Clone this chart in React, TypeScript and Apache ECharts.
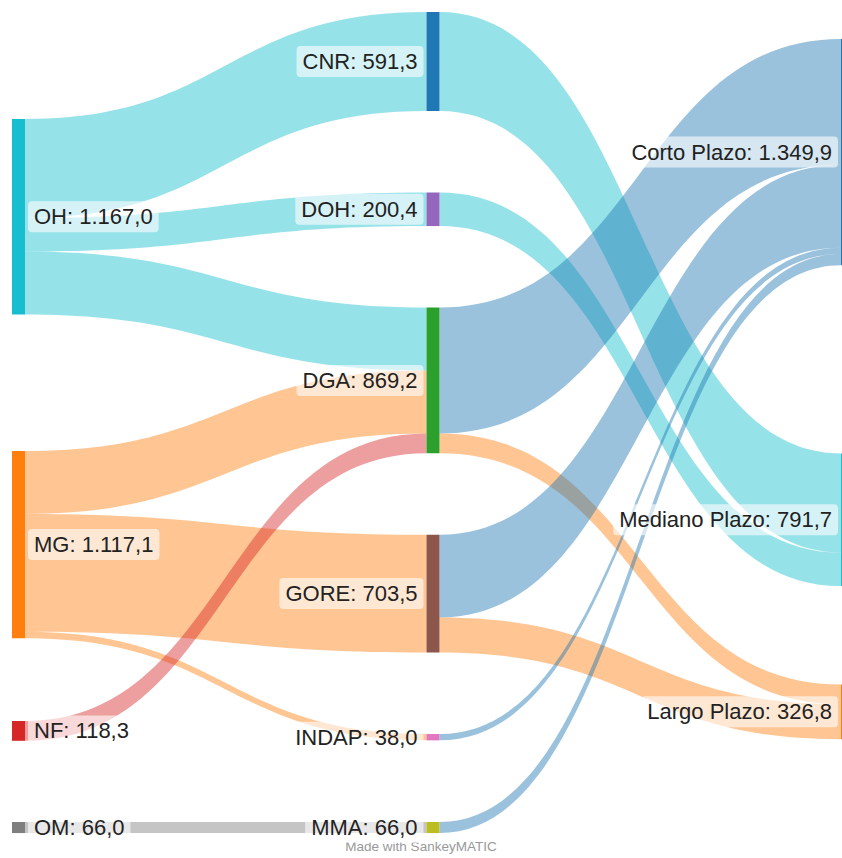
import React, { useEffect, useRef } from "react";
import * as echarts from "echarts";

// ---- data ----
const nodeNames = [
  "OH", "MG", "NF", "OM",
  "CNR", "DOH", "DGA", "GORE", "INDAP", "MMA",
  "Corto Plazo", "Mediano Plazo", "Largo Plazo",
];
const linkSources = [
  "OH", "OH", "OH", "MG", "MG", "MG", "NF", "OM",
  "CNR", "DOH", "DGA", "DGA", "GORE", "GORE", "INDAP", "MMA",
];
const linkTargets = [
  "CNR", "DOH", "DGA", "DGA", "GORE", "INDAP", "DGA", "MMA",
  "Mediano Plazo", "Mediano Plazo", "Corto Plazo", "Largo Plazo", "Corto Plazo", "Largo Plazo", "Corto Plazo", "Corto Plazo",
];
const linkValues = [
  591.3, 200.4, 375.3, 375.6, 703.5, 38.0, 118.3, 66.0,
  591.3, 200.4, 751.2, 118.0, 494.7, 208.8, 38.0, 66.0,
];
const footerText = "Made with SankeyMATIC";

// ---- styles / layout (not data) ----
const nodeColors: Record<string, string> = {
  OH: "#17becf", MG: "#ff7f0e", NF: "#d62728", OM: "#7f7f7f",
  CNR: "#1f77b4", DOH: "#9467bd", DGA: "#2ca02c", GORE: "#8c564b", INDAP: "#e377c2", MMA: "#bcbd22",
  "Corto Plazo": "#1f77b4", "Mediano Plazo": "#17becf", "Largo Plazo": "#ff7f0e",
};
const leftColumn = ["OH", "MG", "NF", "OM"];
const rightColumn = ["Corto Plazo", "Mediano Plazo", "Largo Plazo"];
const LAYOUT_H = 821;
const nodeTopPx: Record<string, number> = {
  OH: 107, MG: 439, NF: 709, OM: 810,
  CNR: 0, DOH: 180.5, DGA: 295.6, GORE: 522.7, INDAP: 722, MMA: 810,
  "Corto Plazo": 27, "Mediano Plazo": 441.5, "Largo Plazo": 672.5,
};
const FONT = "'Liberation Sans', Arial, Helvetica, sans-serif";

function fmt(v: number): string {
  const [i, d] = v.toFixed(1).split(".");
  return i.replace(/\B(?=(\d{3})+(?!\d))/g, ".") + "," + d;
}

function nodeValue(name: string): number {
  let inSum = 0;
  let outSum = 0;
  linkValues.forEach((v, k) => {
    if (linkSources[k] === name) outSum += v;
    if (linkTargets[k] === name) inSum += v;
  });
  return Math.max(inSum, outSum);
}

export default function App() {
  const ref = useRef<HTMLDivElement>(null);
  useEffect(() => {
    if (!ref.current) return;
    const chart = echarts.init(ref.current, null, { renderer: "svg" });
    const nodes = nodeNames.map((name) => ({
      name,
      localY: nodeTopPx[name] / LAYOUT_H,
      itemStyle: { color: nodeColors[name], borderWidth: 0, opacity: 1 },
      label: {
        position: leftColumn.includes(name) ? "right" : "left",
      },
    }));
    const links = linkValues.map((value, k) => {
      const src = linkSources[k];
      const tgt = linkTargets[k];
      const colorKey = leftColumn.includes(src) ? src : tgt;
      return {
        source: src,
        target: tgt,
        value,
        lineStyle: { color: nodeColors[colorKey], opacity: 0.45, curveness: 0.5 },
      };
    });
    chart.setOption({
      animation: false,
      series: [
        {
          type: "sankey",
          left: 12,
          top: 12,
          width: 842,
          height: LAYOUT_H,
          nodeWidth: 13,
          nodeGap: 81.5,
          layoutIterations: 0,
          draggable: false,
          emphasis: { disabled: true },
          data: nodes,
          links,
          label: {
            show: true,
            distance: 3,
            color: "#222",
            fontFamily: FONT,
            fontSize: 22,
            lineHeight: 25,
            backgroundColor: "rgba(255,255,255,0.6)",
            borderRadius: 4,
            padding: [3, 6],
            formatter: (p: any) => `${p.name}: ${fmt(nodeValue(p.name))}`,
          },
        },
      ],
      graphic: [
        {
          type: "text",
          x: 421,
          y: 846,
          style: {
            text: footerText,
            fill: "#999",
            font: `13.5px ${FONT}`,
            textAlign: "center",
            textVerticalAlign: "middle",
          },
        },
      ],
    });
    return () => chart.dispose();
  }, []);
  return (
    <div
      ref={ref}
      style={{ position: "absolute", left: 0, top: 0, width: 842, height: 858 }}
    />
  );
}
